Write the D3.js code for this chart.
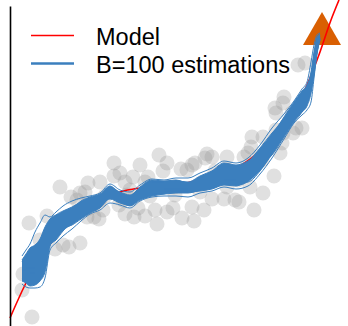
<!DOCTYPE html>
<html>
<head>
<meta charset="utf-8">
<script src="https://cdn.jsdelivr.net/npm/d3@7"></script>
<style>
  html, body { margin: 0; padding: 0; background: #fff; }
  svg { display: block; }
  text { font-family: "Liberation Sans", Arial, sans-serif; }
</style>
</head>
<body>
<svg id="chart" width="348" height="326"></svg>
<script>
// Observed sample (x, y)
const obsX = [22,12,13,19,37,45,53,59,70,50,61,67,70,75,78,77,84,89,90,90,80,93,104,104,110,109,115,113,115,117,124,128,135,123,130,135,138,149,153,157,147,145,157,163,164,171,172,177,182,185,182,184,194,195,197,202,202,205,217,214,218,217,225,228,229,234,238,241,240,242,244,253,253,264,266,266,270,272,273,265,274,273,282,283,286,292,288,295,95,140,190,235,252,30,120,165];
const obsY = [9,36,52,103,110,77,81,79,83,139,129,126,133,134,143,109,109,107,126,144,118,116,163,150,153,121,112,126,144,131,109,118,110,149,161,144,149,171,155,163,102,116,114,118,139,157,108,156,161,163,119,105,116,168,172,169,127,155,169,127,156,139,126,146,124,169,173,179,139,189,116,189,133,150,213,196,173,183,223,218,229,193,213,193,198,198,261,263,130,130,134,154,166,86,136,131];

// True regression function
const modelX = [0,15,30,45,60,75,90,110,130,150,170,190,210,230,250,270,290,297,310,321,329];
const modelY = [8,41,68,88,104,116,125,134,138,140,142,146,151,160,175,197,226,241,274,306,326];

// Grid on which the bootstrap fits are evaluated
const estX = [12,16,20,25,30,35,40,46,53,62,71,80,90,100,110,120,130,142,154,166,178,190,202,214,226,238,250,262,274,284,292,297,301,304,307,310];

// Bootstrap re-fits of the smoother
const estimations = [
  [70,76,82,94,103,111,109,114,120,125,128,130,133,142,136,134,141,147,146,148,148,153,158,165,163,168,181,198,212,225,237,244,264,281,291,293],
  [42,39,38,38,39,48,76,83,90,97,105,112,116,123,121,118,125,129,130,130,129,133,135,139,137,140,152,168,187,203,211,216,224,248,272,286],
  [64,70,73,76,85,96,104,111,115,119,124,128,130,138,134,131,138,144,144,145,144,150,155,160,157,164,178,193,206,221,234,240,254,274,288,292],
  [48,45,47,51,50,57,81,86,95,104,109,114,119,127,123,121,129,132,132,133,133,136,138,144,143,144,155,173,193,207,214,220,233,253,274,287],
  [60,61,67,73,76,82,98,106,110,114,120,125,127,135,131,130,136,140,141,143,142,145,150,158,154,157,171,190,204,216,228,236,249,267,284,291],
  [52,54,53,53,59,71,87,92,100,108,113,117,122,130,126,122,130,136,135,135,135,141,143,146,146,151,162,176,195,212,220,224,237,260,278,288],
  [56,56,60,66,68,74,93,100,103,111,118,120,125,134,128,126,134,137,138,140,137,143,148,151,150,156,165,183,201,213,224,232,241,264,282,289],
  [66,72,78,81,87,99,107,111,112,117,125,129,132,140,132,130,139,146,145,146,143,147,155,163,161,165,173,190,209,224,235,241,251,271,288,292],
  [45,43,40,41,45,54,80,92,98,101,107,113,118,128,125,120,126,130,132,135,134,135,137,141,140,148,160,171,189,204,214,224,235,251,273,287],
  [57,58,58,58,65,77,94,102,107,111,115,119,124,133,129,128,134,138,137,137,137,143,148,155,151,154,165,180,198,214,225,233,245,264,280,289]
];

// Query point
const queryX = [312];
const queryY = [292];

const legendLabels = ["Model", "B=100 estimations"];

const BLUE = "#3b7fbe", RED = "#ff0000", ORANGE = "#d95f02";

const svg = d3.select("#chart");
const x = d3.scaleLinear().domain([0, 330]).range([10, 340]);
const y = d3.scaleLinear().domain([0, 326]).range([326, 0]);

// observations
svg.append("g").selectAll("circle")
  .data(obsX.map((v, i) => [v, obsY[i]]))
  .join("circle")
  .attr("cx", d => x(d[0]))
  .attr("cy", d => y(d[1]))
  .attr("r", 7.5)
  .attr("fill", "#999")
  .attr("fill-opacity", 0.3);

// query marker
svg.append("g").selectAll("path")
  .data(queryX.map((v, i) => [v, queryY[i]]))
  .join("path")
  .attr("transform", d => `translate(${x(d[0])},${y(d[1])})`)
  .attr("d", d3.symbol(d3.symbolTriangle, 625))
  .attr("fill", ORANGE);

// model
const line = d3.line().x(d => x(d[0])).y(d => y(d[1])).curve(d3.curveMonotoneX);
svg.append("path")
  .datum(modelX.map((v, i) => [v, modelY[i]]))
  .attr("d", line)
  .attr("fill", "none")
  .attr("stroke", RED)
  .attr("stroke-width", 1.6);

// bootstrap estimations: dense core plus individual curves
const core = estX.map((v, i) => {
  const col = estimations.map(c => c[i]).sort(d3.ascending);
  return [v, col[1], col[col.length - 2]];
});
svg.append("path")
  .datum(core)
  .attr("d", d3.area().x(d => x(d[0])).y0(d => y(d[1])).y1(d => y(d[2])).curve(d3.curveMonotoneX))
  .attr("fill", BLUE);

svg.append("g").selectAll("path")
  .data(estimations.map(c => estX.map((v, i) => [v, c[i]])))
  .join("path")
  .attr("d", line)
  .attr("fill", "none")
  .attr("stroke", BLUE)
  .attr("stroke-width", 1);

// left axis line
svg.append("g")
  .attr("transform", `translate(${x(0)},0)`)
  .call(d3.axisLeft(d3.scaleLinear().domain([0, 1]).range([326, 6])).ticks(0).tickSizeOuter(0))
  .select(".domain")
  .attr("stroke", "#000")
  .attr("stroke-width", 1.6);

// legend
const legend = svg.append("g");
const legendColors = [RED, BLUE];
legendLabels.forEach((lab, i) => {
  const ly = 35.5 + i * 28;
  legend.append("line")
    .attr("x1", 31).attr("x2", 74)
    .attr("y1", ly).attr("y2", ly)
    .attr("stroke", legendColors[i])
    .attr("stroke-width", i === 0 ? 1.6 : 2.4);
  legend.append("text")
    .attr("x", 96).attr("y", ly + 9)
    .attr("font-size", 23.5)
    .attr("fill", "#000")
    .text(lab);
});
</script>
</body>
</html>
